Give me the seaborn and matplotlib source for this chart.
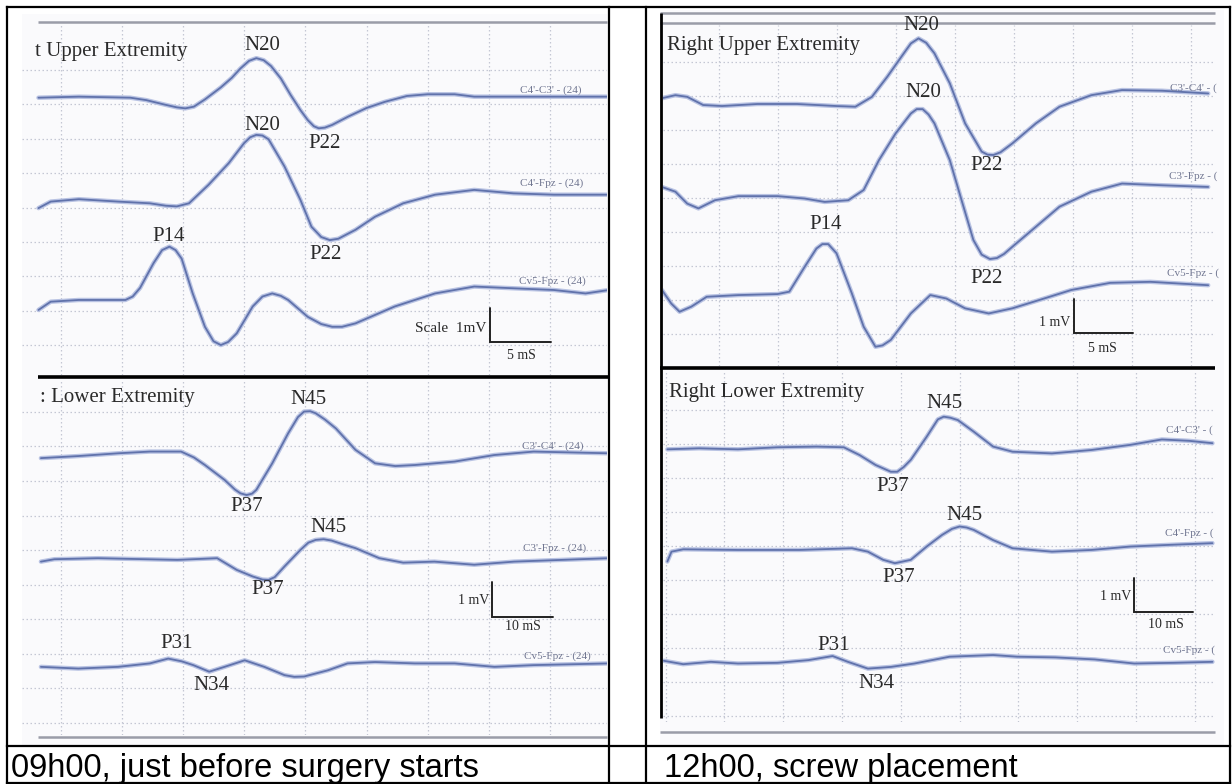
import numpy as np
import pandas as pd
import matplotlib
matplotlib.use("Agg")
import matplotlib.pyplot as plt
import seaborn as sns

sns.set_theme(style="white")
plt.rcParams['font.family'] = ['Liberation Serif', 'DejaVu Serif']

# ------------------------------------------------------------------
# DATA  (time in ms, amplitude in mV relative to each channel baseline)
# ------------------------------------------------------------------
# Upper extremity, 09h00 (left)
LU1_T = [3.2, 6.5, 10.7, 12.0, 13.5, 14.5, 15.2, 15.9, 16.8, 18.1, 19.0, 19.7, 20.4, 21.0, 21.6, 22.2, 23.0, 23.8, 24.6, 25.2, 25.7, 26.1, 26.6, 27.2, 28.5, 30.0, 31.5, 33.3, 35.0, 37.2, 38.8, 42.0, 49.8]
LU1_V = [0.0, 0.03, 0.0, -0.07, -0.20, -0.28, -0.31, -0.26, -0.05, 0.30, 0.58, 0.85, 1.07, 1.15, 1.09, 0.92, 0.56, 0.08, -0.36, -0.65, -0.83, -0.89, -0.87, -0.79, -0.55, -0.30, -0.12, 0.05, 0.10, 0.10, 0.03, 0.03, 0.03]
LU2_T = [3.2, 4.2, 6.5, 9.7, 12.3, 13.6, 14.5, 15.5, 17.1, 18.75, 20.0, 20.5, 21.0, 21.5, 22.0, 23.3, 24.6, 25.5, 26.3, 27.0, 27.7, 28.4, 29.1, 30.7, 33.0, 35.6, 38.8, 42.0, 45.3, 49.8]
LU2_V = [-0.24, -0.05, 0.02, -0.05, -0.10, -0.17, -0.19, -0.10, 0.44, 1.07, 1.65, 1.82, 1.89, 1.87, 1.76, 0.97, 0.0, -0.78, -1.08, -1.17, -1.13, -1.0, -0.87, -0.49, -0.10, 0.15, 0.29, 0.19, 0.15, 0.15]
LU3_T = [3.2, 4.2, 6.5, 10.3, 10.9, 11.5, 12.6, 13.3, 13.9, 14.4, 14.9, 15.8, 16.8, 17.5, 18.1, 18.7, 19.4, 20.7, 21.5, 22.3, 23.0, 23.6, 25.2, 26.3, 27.2, 28.0, 29.1, 32.3, 35.6, 38.8, 42.0, 45.3, 47.9, 49.8]
LU3_V = [-0.29, -0.05, 0.0, 0.0, 0.10, 0.35, 1.07, 1.45, 1.55, 1.45, 1.20, 0.19, -0.78, -1.20, -1.31, -1.22, -0.97, -0.19, 0.10, 0.19, 0.12, 0.0, -0.49, -0.70, -0.78, -0.78, -0.68, -0.19, 0.19, 0.39, 0.34, 0.29, 0.19, 0.29]

# Lower extremity, 09h00 (left)
LL1_T = [6.8, 12.9, 19.4, 24.6, 29.7, 31.8, 33.6, 36.8, 38.5, 39.4, 40.4, 41.3, 42.0, 44.6, 47.2, 48.8, 49.8, 50.8, 51.7, 53.2, 55.0, 58.2, 61.4, 64.7, 67.9, 74.4, 80.9, 87.3, 99.6]
LL1_V = [-0.14, -0.08, 0.0, 0.05, 0.05, -0.12, -0.34, -0.77, -1.05, -1.16, -1.21, -1.17, -1.06, -0.29, 0.58, 1.05, 1.21, 1.22, 1.16, 0.98, 0.72, 0.10, -0.29, -0.37, -0.34, -0.24, -0.05, 0.05, 0.0]
LL2_T = [6.8, 9.0, 16.1, 29.1, 35.6, 37.2, 38.8, 41.4, 43.0, 44.0, 45.0, 46.6, 49.2, 50.5, 51.7, 53.0, 54.3, 56.2, 58.2, 62.1, 66.0, 71.1, 77.6, 84.1, 99.6]
LL2_V = [-0.05, 0.02, 0.05, 0.0, 0.05, -0.12, -0.29, -0.48, -0.57, -0.58, -0.50, -0.19, 0.29, 0.50, 0.58, 0.60, 0.56, 0.45, 0.34, 0.05, -0.08, -0.05, -0.14, -0.05, 0.05]
LL3_T = [6.8, 12.9, 19.4, 24.6, 27.6, 29.8, 31.7, 34.3, 36.8, 40.1, 43.3, 46.6, 48.2, 49.8, 53.7, 56.9, 61.4, 67.9, 74.4, 80.9, 87.3, 99.6]
LL3_V = [-0.02, -0.07, -0.02, 0.08, 0.22, 0.14, 0.03, -0.16, -0.02, 0.17, -0.02, -0.26, -0.31, -0.30, -0.12, 0.08, 0.12, 0.08, 0.08, -0.02, 0.03, 0.08]

# Upper extremity, 12h00 (right)
RU1_T = [0.2, 1.35, 2.35, 3.7, 5.3, 8.3, 11.65, 15.0, 16.6, 18.0, 19.3, 20.6, 21.3, 21.95, 22.6, 23.3, 24.6, 25.9, 27.3, 27.8, 28.3, 28.9, 29.9, 31.9, 33.9, 36.6, 39.2, 42.6, 46.5]
RU1_V = [0.17, 0.26, 0.21, -0.03, -0.06, 0.0, 0.0, -0.06, -0.08, 0.21, 0.80, 1.44, 1.78, 1.93, 1.80, 1.49, 0.61, -0.57, -1.40, -1.49, -1.50, -1.42, -1.16, -0.57, -0.08, 0.26, 0.41, 0.39, 0.31]
RU2_T = [0.2, 1.35, 2.35, 3.3, 4.7, 6.7, 10.0, 12.3, 14.0, 16.0, 17.3, 18.6, 20.0, 21.3, 21.8, 22.3, 22.8, 23.3, 24.6, 25.6, 26.6, 27.3, 28.0, 28.6, 29.2, 29.9, 31.9, 33.9, 36.6, 39.2, 42.6, 46.5]
RU2_V = [0.29, 0.15, -0.20, -0.34, -0.10, 0.02, 0.02, -0.05, -0.15, -0.10, 0.20, 1.08, 1.86, 2.45, 2.58, 2.58, 2.42, 2.16, 1.08, -0.10, -1.27, -1.70, -1.83, -1.80, -1.68, -1.47, -0.88, -0.29, 0.15, 0.39, 0.34, 0.29]
RU3_T = [0.2, 1.0, 1.7, 2.7, 4.0, 6.7, 10.0, 11.0, 12.3, 13.3, 13.8, 14.3, 15.0, 16.3, 17.3, 18.3, 18.9, 19.6, 21.3, 22.95, 24.3, 25.9, 27.9, 29.9, 32.6, 34.9, 38.2, 41.6, 46.5]
RU3_V = [0.15, -0.25, -0.49, -0.34, -0.05, 0.0, 0.03, 0.10, 0.83, 1.37, 1.50, 1.50, 1.23, 0.05, -0.93, -1.52, -1.48, -1.32, -0.54, 0.0, -0.10, -0.39, -0.54, -0.39, -0.10, 0.15, 0.36, 0.39, 0.29]

# Lower extremity, 12h00 (right)
RL1_T = [0.3, 5.7, 12.3, 19.0, 25.7, 30.3, 33.0, 35.7, 38.3, 39.4, 40.5, 41.7, 44.4, 46.3, 47.3, 48.4, 49.7, 52.4, 55.7, 59.0, 65.7, 72.4, 79.0, 84.4, 89.0, 93.0]
RL1_V = [-0.03, 0.0, -0.03, 0.03, 0.05, 0.03, -0.20, -0.49, -0.69, -0.69, -0.55, -0.34, 0.34, 0.85, 0.93, 0.90, 0.83, 0.49, 0.05, -0.10, -0.15, -0.05, 0.10, 0.26, 0.22, 0.15]
RL2_T = [0.3, 1.0, 3.0, 12.3, 22.7, 31.7, 34.4, 37.0, 39.0, 41.7, 44.4, 47.0, 48.7, 50.0, 51.2, 52.4, 55.7, 59.0, 65.7, 72.4, 79.0, 85.7, 93.0]
RL2_V = [-0.34, -0.05, 0.02, 0.0, 0.0, 0.05, -0.05, -0.29, -0.39, -0.29, 0.10, 0.44, 0.62, 0.69, 0.66, 0.59, 0.29, 0.05, -0.05, 0.0, 0.10, 0.15, 0.20]
RL3_T = [-0.3, 3.0, 7.7, 12.3, 19.0, 24.3, 28.4, 31.0, 34.4, 38.3, 42.3, 48.3, 55.7, 59.8, 66.3, 73.0, 79.7, 86.3, 93.0]
RL3_V = [0.03, -0.07, 0.0, -0.05, -0.03, 0.05, 0.17, 0.0, -0.20, -0.15, -0.05, 0.15, 0.20, 0.15, 0.13, 0.07, -0.05, -0.03, 0.0]

# Labels
LU_CHANNELS = ["C4'-C3' - (24)", "C4'-Fpz - (24)", "Cv5-Fpz - (24)"]
LL_CHANNELS = ["C3'-C4' - (24)", "C3'-Fpz - (24)", "Cv5-Fpz - (24)"]
RU_CHANNELS = ["C3'-C4' - (", "C3'-Fpz - (", "Cv5-Fpz - ("]
RL_CHANNELS = ["C4'-C3' - (", "C4'-Fpz - (", "Cv5-Fpz - ("]
PANEL_TITLES = ["t Upper Extremity", ": Lower Extremity", "Right Upper Extremity", "Right Lower Extremity"]
CAPTIONS = ["09h00, just before surgery starts", "12h00, screw placement"]
LU_PEAKS = ["N20", "P22", "N20", "P14", "P22"]
RU_PEAKS = ["N20", "N20", "P22", "P14", "P22"]
LOWER_PEAKS = ["N45", "P37", "N45", "P37", "P31", "N34"]

# ------------------------------------------------------------------
# LAYOUT / STYLE
# ------------------------------------------------------------------
W, H = 1232, 784
TRACE = '#6072ab'
HALO = '#b9c3e3'
GRIDC = '#c4c7d4'
TXT = '#2a2a2a'
CHTXT = '#6f7590'
SCANBG = '#fafafc'

fig = plt.figure(figsize=(W / 100, H / 100), dpi=100)
fig.patch.set_facecolor('white')

bg = fig.add_axes([0, 0, 1, 1], zorder=0)
bg.set_xlim(0, W); bg.set_ylim(H, 0); bg.axis('off')
top = fig.add_axes([0, 0, 1, 1], zorder=5)
top.set_xlim(0, W); top.set_ylim(H, 0); top.axis('off')
top.patch.set_alpha(0)

# scan backgrounds
bg.add_patch(plt.Rectangle((22, 14), 585, 731, color=SCANBG, lw=0))
bg.add_patch(plt.Rectangle((660, 10), 564, 736, color=SCANBG, lw=0))
# scan frame lines (grey)
for (x0, x1, y) in [(38, 607, 22), (38, 607, 737), (660, 1215, 13), (660, 1215, 23), (660, 1215, 732)]:
    bg.plot([x0, x1], [y, y], color='#9a9ca8', lw=1.8, solid_capstyle='butt')

def panel_axes(px0, px1, py0, py1, gx0, t_g0, px_per_ms, ms_div, base_py, px_per_mv, gy0):
    ax = fig.add_axes([px0 / W, 1 - py1 / H, (px1 - px0) / W, (py1 - py0) / H], zorder=2)
    ax.set_facecolor('none')
    xl = (t_g0 + (px0 - gx0) / px_per_ms, t_g0 + (px1 - gx0) / px_per_ms)
    yl = ((base_py - py1) / px_per_mv, (base_py - py0) / px_per_mv)
    ax.set_xlim(*xl); ax.set_ylim(*yl)
    xt = np.arange(np.ceil(xl[0] / ms_div) * ms_div, xl[1], ms_div)
    v0 = (base_py - gy0) / px_per_mv
    yt = v0 - np.arange(0, 12)
    yt = yt[(yt > yl[0]) & (yt < yl[1])]
    ax.set_xticks(xt); ax.set_yticks(yt)
    ax.set_xticklabels([]); ax.set_yticklabels([])
    ax.tick_params(length=0)
    ax.grid(True, color=GRIDC, linestyle=(0, (1.2, 2.0)), linewidth=0.9)
    for s in ax.spines.values():
        s.set_visible(False)
    return ax

def draw_traces(ax, traces, offsets):
    for (t, v), off in zip(traces, offsets):
        df = pd.DataFrame({'t': t, 'v': np.asarray(v) + off})
        sns.lineplot(data=df, x='t', y='v', ax=ax, color=HALO, lw=3.2, sort=False,
                     estimator=None, legend=False, solid_joinstyle='round')
        sns.lineplot(data=df, x='t', y='v', ax=ax, color=TRACE, lw=1.3, sort=False,
                     estimator=None, legend=False, solid_joinstyle='round')
    ax.set_xlabel(''); ax.set_ylabel('')

def scale_bar(ax, t0, v0, dt):
    ax.plot([t0, t0, t0 + dt], [v0 + 1, v0, v0], color='#222222', lw=1.4, solid_joinstyle='miter')

ax_lu = panel_axes(22, 607, 25, 375, 60.5, 5, 12.24, 5, 97.7, 34.4, 70)
draw_traces(ax_lu, [(LU1_T, LU1_V), (LU2_T, LU2_V), (LU3_T, LU3_V)], [0, -2.97, -5.88])
scale_bar(ax_lu, 40.1, -7.1, 5)

ax_ll = panel_axes(22, 607, 380, 735, 60.5, 10, 6.12, 10, 453.3, 34.5, 412)
draw_traces(ax_ll, [(LL1_T, LL1_V), (LL2_T, LL2_V), (LL3_T, LL3_V)], [0, -3.09, -6.17])
scale_bar(ax_ll, 80.5, -4.74, 10)

ax_ru = panel_axes(663, 1215, 25, 366, 718.5, 5, 11.8, 5, 104, 34, 62)
draw_traces(ax_ru, [(RU1_T, RU1_V), (RU2_T, RU2_V), (RU3_T, RU3_V)], [0, -2.73, -5.62])
scale_bar(ax_ru, 35.1, -6.74, 5)

ax_rl = panel_axes(663, 1215, 372, 722, 724.4, 10, 5.88, 10, 448.3, 34, 410)
draw_traces(ax_rl, [(RL1_T, RL1_V), (RL2_T, RL2_V), (RL3_T, RL3_V)], [0, -2.99, -6.28])
scale_bar(ax_rl, 79.7, -4.81, 10)

# thick black dividers and right scan edge
top.plot([38, 609], [377, 377], color='black', lw=2.6, solid_capstyle='butt')
top.plot([660, 1215], [368, 368], color='black', lw=2.6, solid_capstyle='butt')
top.plot([661, 661], [13, 718], color='black', lw=2.0, solid_capstyle='butt')

# panel titles
ttl_kw = dict(fontsize=15, color=TXT, va='center', ha='left')
top.text(35, 51, PANEL_TITLES[0], **ttl_kw)
top.text(40, 397, PANEL_TITLES[1], **ttl_kw)
top.text(667, 45, PANEL_TITLES[2], **ttl_kw)
top.text(669, 392, PANEL_TITLES[3], **ttl_kw)

pk_kw = dict(fontsize=15, color=TXT, va='center', ha='center')
for lab, (x, y) in zip(LU_PEAKS, [(262, 45), (325, 143), (262, 125), (169, 236), (326, 254)]):
    top.text(x, y, lab, **pk_kw)
for lab, (x, y) in zip(RU_PEAKS, [(921, 25), (923, 92), (987, 165), (826, 224), (987, 278)]):
    top.text(x, y, lab, **pk_kw)
for lab, (x, y) in zip(LOWER_PEAKS, [(308, 399), (247, 506), (328, 527), (268, 590), (177, 643), (211, 685)]):
    top.text(x, y, lab, **pk_kw)
for lab, (x, y) in zip(LOWER_PEAKS, [(944, 403), (893, 486), (964, 515), (899, 578), (834, 646), (876, 684)]):
    top.text(x, y, lab, **pk_kw)

ch_kw = dict(fontsize=8, color=CHTXT, va='center', ha='center')
for lab, (x, y) in zip(LU_CHANNELS, [(551, 90), (552, 183), (552, 281)]):
    top.text(x, y, lab, **ch_kw)
for lab, (x, y) in zip(LL_CHANNELS, [(553, 446), (555, 548), (557, 656)]):
    top.text(x, y, lab, **ch_kw)
for lab, (x, y) in zip(RU_CHANNELS, [(1193, 88), (1193, 176), (1193, 273)]):
    top.text(x, y, lab, **ch_kw)
for lab, (x, y) in zip(RL_CHANNELS, [(1189, 430), (1189, 533), (1189, 650)]):
    top.text(x, y, lab, **ch_kw)

top.text(486, 328, "Scale  1mV", ha='right', fontsize=11, color=TXT, va='center')
small_kw = dict(fontsize=10, color=TXT, va='center')
top.text(521, 355, "5 mS", ha='center', **small_kw)
top.text(489, 600, "1 mV", ha='right', **small_kw)
top.text(523, 627, "10 mS", ha='center', **small_kw)
top.text(1070, 322, "1 mV", ha='right', **small_kw)
top.text(1102, 348, "5 mS", ha='center', **small_kw)
top.text(1131, 596, "1 mV", ha='right', **small_kw)
top.text(1166, 624, "10 mS", ha='center', **small_kw)

# table borders
tb = dict(color='black', lw=1.6, solid_capstyle='projecting')
top.plot([7, 1230], [7, 7], **tb)
top.plot([7, 1230], [746, 746], **tb)
top.plot([7, 1230], [783, 783], **tb)
top.plot([7, 7], [7, 783], **tb)
top.plot([609, 609], [7, 783], **tb)
top.plot([646, 646], [7, 783], **tb)
top.plot([1230, 1230], [7, 783], **tb)

cap_kw = dict(fontsize=23.5, color='black', va='baseline', ha='left', family=['Liberation Sans', 'DejaVu Sans'])
top.text(11, 777, CAPTIONS[0], **cap_kw)
top.text(664, 777, CAPTIONS[1], **cap_kw)

fig.savefig('out.png', dpi=100, facecolor='white')
